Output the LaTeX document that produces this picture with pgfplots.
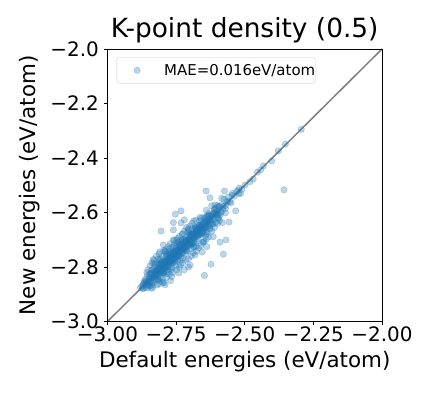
\documentclass[border=0pt]{standalone}
\usepackage{fontspec}
\setmainfont{DejaVu Sans}
\usepackage{pgfplots}
\pgfplotsset{compat=1.18}
\definecolor{tabblue}{RGB}{31,119,180}
\pgfplotsset{myleg/.style={legend image code/.code={\path[draw=none] (-20.3bp,0bp) -- (27bp,0bp); \draw[##1] plot[only marks] coordinates {(0bp,0bp)};}}}
\begin{document}
\begin{tikzpicture}
\path[use as bounding box] (-107.5bp,-74.5bp) rectangle (324.5bp,321.5bp);
\begin{axis}[
  at={(0,0)}, anchor=south west,
  scale only axis, width=274.5bp, height=272.5bp,
  xmin=-3, xmax=-2, ymin=-3, ymax=-2,
  xtick={-3,-2.75,-2.5,-2.25,-2},
  xticklabels={−3.00,−2.75,−2.50,−2.25,−2.00},
  ytick={-3,-2.8,-2.6,-2.4,-2.2,-2},
  yticklabels={−3.0,−2.8,−2.6,−2.4,−2.2,−2.0},
  xtick pos=bottom, ytick pos=left,
  tick align=outside, major tick length=3.5bp,
  tick style={black, line width=0.8bp},
  axis line style={black, line width=0.8bp},
  xticklabel style={font=\fontsize{20}{24}\selectfont, inner sep=0pt, anchor=north, yshift=-2bp},
  yticklabel style={font=\fontsize{20}{24}\selectfont, inner sep=0pt, anchor=east, xshift=-5bp},
  title={K-point density (0.5)},
  title style={font=\fontsize{26.5}{32}\selectfont, at={(axis description cs:0.5,1)}, anchor=base, yshift=6bp, inner sep=0pt},
  xlabel={Default energies (eV/atom)},
  ylabel={New energies (eV/atom)},
  xlabel style={font=\fontsize{21.5}{26}\selectfont, at={(axis description cs:0.5,0)}, anchor=base, yshift=-46bp, inner sep=0pt},
  ylabel style={font=\fontsize{21.5}{26}\selectfont, at={(axis description cs:-0.2641,0.5)}, anchor=base, inner sep=0pt},
  legend style={at={(axis description cs:0.0335,0.9695)}, anchor=north west,
    draw=black!20, rounded corners=2.5bp, fill=white, fill opacity=0.8, text opacity=1,
    font=\fontsize{15}{18}\selectfont, inner xsep=0bp, inner ysep=6.5bp,
    nodes={inner sep=0pt, font=\fontsize{15}{18}\selectfont}, column sep=0pt},
  legend cell align=left,
]
\addplot[only marks, mark=*, mark size=3.2bp,
  mark options={fill=tabblue, draw=tabblue, line width=0.5bp, opacity=0.3}, myleg]
coordinates {
(-2.880,-2.876) (-2.872,-2.878) (-2.865,-2.856) (-2.858,-2.860) (-2.850,-2.844) (-2.845,-2.854)
(-2.838,-2.837) (-2.832,-2.836) (-2.825,-2.821) (-2.820,-2.826) (-2.815,-2.806) (-2.810,-2.812)
(-2.805,-2.799) (-2.800,-2.809) (-2.796,-2.795) (-2.792,-2.796) (-2.788,-2.784) (-2.784,-2.790)
(-2.780,-2.771) (-2.776,-2.778) (-2.772,-2.766) (-2.768,-2.777) (-2.764,-2.763) (-2.760,-2.764)
(-2.756,-2.752) (-2.752,-2.758) (-2.748,-2.739) (-2.744,-2.746) (-2.740,-2.734) (-2.736,-2.745)
(-2.732,-2.731) (-2.728,-2.732) (-2.724,-2.720) (-2.720,-2.726) (-2.715,-2.706) (-2.710,-2.712)
(-2.705,-2.699) (-2.700,-2.709) (-2.694,-2.693) (-2.688,-2.692) (-2.682,-2.678) (-2.676,-2.682)
(-2.670,-2.661) (-2.664,-2.666) (-2.658,-2.652) (-2.652,-2.661) (-2.645,-2.644) (-2.638,-2.642)
(-2.630,-2.626) (-2.622,-2.628) (-2.614,-2.605) (-2.605,-2.607) (-2.596,-2.590) (-2.587,-2.596)
(-2.578,-2.577) (-2.570,-2.574) (-2.562,-2.558) (-2.554,-2.560) (-2.546,-2.537) (-2.538,-2.540)
(-2.530,-2.524) (-2.522,-2.531)
(-2.862,-2.844) (-2.855,-2.877) (-2.848,-2.837) (-2.842,-2.856) (-2.836,-2.810) (-2.829,-2.846)
(-2.823,-2.815) (-2.817,-2.844) (-2.811,-2.790) (-2.806,-2.816) (-2.801,-2.783) (-2.797,-2.819)
(-2.793,-2.782) (-2.789,-2.803) (-2.785,-2.759) (-2.781,-2.798) (-2.777,-2.769) (-2.773,-2.800)
(-2.769,-2.748) (-2.765,-2.775) (-2.761,-2.743) (-2.757,-2.779) (-2.753,-2.742) (-2.749,-2.763)
(-2.745,-2.719) (-2.741,-2.758) (-2.737,-2.729) (-2.733,-2.760) (-2.729,-2.708) (-2.725,-2.735)
(-2.721,-2.703) (-2.717,-2.739) (-2.712,-2.701) (-2.707,-2.721) (-2.702,-2.676) (-2.697,-2.714)
(-2.691,-2.683) (-2.685,-2.712) (-2.679,-2.658) (-2.673,-2.683) (-2.667,-2.649) (-2.660,-2.682)
(-2.653,-2.642) (-2.646,-2.660) (-2.639,-2.613) (-2.631,-2.648) (-2.623,-2.615) (-2.615,-2.642)
(-2.606,-2.585) (-2.597,-2.607)
(-2.852,-2.810) (-2.840,-2.878) (-2.831,-2.776) (-2.819,-2.866) (-2.808,-2.775) (-2.799,-2.857)
(-2.790,-2.742) (-2.782,-2.817) (-2.774,-2.732) (-2.766,-2.804) (-2.758,-2.703) (-2.750,-2.797)
(-2.742,-2.709) (-2.734,-2.792) (-2.726,-2.678) (-2.716,-2.751) (-2.706,-2.664) (-2.696,-2.734)
(-2.686,-2.631) (-2.676,-2.723) (-2.664,-2.631) (-2.652,-2.710) (-2.640,-2.592) (-2.626,-2.661)
(-2.803,-2.789) (-2.798,-2.803) (-2.791,-2.807) (-2.786,-2.779) (-2.779,-2.779) (-2.774,-2.785)
(-2.767,-2.753) (-2.762,-2.767) (-2.755,-2.771) (-2.750,-2.743) (-2.743,-2.743) (-2.738,-2.749)
(-2.731,-2.717) (-2.726,-2.731) (-2.719,-2.735) (-2.714,-2.707) (-2.708,-2.708) (-2.703,-2.714)
(-2.696,-2.682) (-2.690,-2.695) (-2.684,-2.700) (-2.678,-2.671) (-2.671,-2.671) (-2.665,-2.676)
(-2.657,-2.643) (-2.650,-2.655) (-2.641,-2.657) (-2.634,-2.627)
(-2.870,-2.880) (-2.865,-2.852) (-2.860,-2.865) (-2.855,-2.831) (-2.850,-2.866) (-2.845,-2.842)
(-2.840,-2.823) (-2.835,-2.855) (-2.830,-2.817) (-2.825,-2.830) (-2.820,-2.796) (-2.815,-2.846)
(-2.810,-2.807) (-2.805,-2.788) (-2.800,-2.820) (-2.795,-2.782) (-2.790,-2.795) (-2.785,-2.761)
(-2.780,-2.811) (-2.775,-2.772) (-2.770,-2.753) (-2.765,-2.785) (-2.760,-2.747) (-2.755,-2.760)
(-2.750,-2.726) (-2.745,-2.776) (-2.740,-2.737) (-2.735,-2.718) (-2.730,-2.750) (-2.725,-2.712)
(-2.720,-2.725) (-2.715,-2.691) (-2.710,-2.741) (-2.705,-2.702) (-2.700,-2.683) (-2.695,-2.715)
(-2.690,-2.677) (-2.685,-2.690) (-2.680,-2.656) (-2.675,-2.706) (-2.670,-2.667) (-2.665,-2.648)
(-2.660,-2.680) (-2.655,-2.642) (-2.650,-2.655) (-2.645,-2.621) (-2.640,-2.671) (-2.635,-2.632)
(-2.630,-2.613) (-2.625,-2.645) (-2.620,-2.607) (-2.615,-2.620) (-2.610,-2.586) (-2.605,-2.636)
(-2.600,-2.597) (-2.595,-2.578) (-2.590,-2.610) (-2.585,-2.572) (-2.580,-2.585) (-2.575,-2.551)
(-2.570,-2.601) (-2.565,-2.562) (-2.560,-2.543)
(-2.868,-2.860) (-2.862,-2.875) (-2.857,-2.820) (-2.851,-2.854) (-2.846,-2.870) (-2.840,-2.825)
(-2.835,-2.875) (-2.829,-2.801) (-2.824,-2.833) (-2.818,-2.810) (-2.813,-2.826) (-2.807,-2.770)
(-2.802,-2.805) (-2.796,-2.820) (-2.791,-2.776) (-2.785,-2.825) (-2.780,-2.752) (-2.774,-2.783)
(-2.769,-2.761) (-2.763,-2.776) (-2.758,-2.721) (-2.752,-2.755) (-2.747,-2.771) (-2.741,-2.726)
(-2.736,-2.776) (-2.730,-2.702) (-2.725,-2.734) (-2.719,-2.711) (-2.714,-2.727) (-2.708,-2.671)
(-2.703,-2.706) (-2.697,-2.721) (-2.692,-2.677) (-2.686,-2.726) (-2.681,-2.653) (-2.675,-2.684)
(-2.670,-2.662) (-2.664,-2.677) (-2.659,-2.622) (-2.653,-2.656) (-2.648,-2.672) (-2.642,-2.627)
(-2.637,-2.677) (-2.631,-2.603) (-2.626,-2.635) (-2.620,-2.612) (-2.615,-2.628) (-2.609,-2.572)
(-2.604,-2.607) (-2.598,-2.622) (-2.593,-2.578)
(-2.822,-2.819) (-2.818,-2.825) (-2.814,-2.802) (-2.810,-2.822) (-2.806,-2.800) (-2.802,-2.799)
(-2.798,-2.805) (-2.794,-2.782) (-2.790,-2.802) (-2.786,-2.780) (-2.782,-2.779) (-2.778,-2.785)
(-2.774,-2.762) (-2.770,-2.782) (-2.766,-2.760) (-2.762,-2.759) (-2.758,-2.765) (-2.754,-2.742)
(-2.750,-2.762) (-2.746,-2.740) (-2.742,-2.739) (-2.738,-2.745) (-2.734,-2.722) (-2.730,-2.742)
(-2.726,-2.720) (-2.722,-2.719) (-2.718,-2.725) (-2.714,-2.702) (-2.710,-2.722) (-2.706,-2.700)
(-2.702,-2.699) (-2.698,-2.705) (-2.694,-2.682) (-2.690,-2.702) (-2.686,-2.680) (-2.682,-2.679)
(-2.678,-2.685) (-2.674,-2.662) (-2.670,-2.682) (-2.666,-2.660) (-2.662,-2.659)
(-2.835,-2.837) (-2.831,-2.826) (-2.826,-2.835) (-2.822,-2.812) (-2.817,-2.819) (-2.813,-2.808)
(-2.808,-2.817) (-2.804,-2.794) (-2.799,-2.801) (-2.795,-2.790) (-2.790,-2.799) (-2.786,-2.776)
(-2.781,-2.783) (-2.777,-2.772) (-2.772,-2.781) (-2.768,-2.758) (-2.763,-2.765) (-2.759,-2.754)
(-2.754,-2.763) (-2.750,-2.740) (-2.745,-2.747) (-2.741,-2.736) (-2.736,-2.745) (-2.732,-2.722)
(-2.727,-2.729) (-2.723,-2.718) (-2.718,-2.727) (-2.714,-2.704) (-2.709,-2.711) (-2.705,-2.700)
(-2.700,-2.709) (-2.696,-2.686) (-2.691,-2.693) (-2.687,-2.682) (-2.682,-2.691) (-2.678,-2.668)
(-2.673,-2.675) (-2.669,-2.664) (-2.664,-2.673) (-2.660,-2.650) (-2.655,-2.657) (-2.651,-2.646)
(-2.646,-2.655) (-2.642,-2.632) (-2.637,-2.639)
(-2.858,-2.852) (-2.852,-2.867) (-2.846,-2.826) (-2.840,-2.841) (-2.834,-2.858) (-2.828,-2.817)
(-2.822,-2.816) (-2.816,-2.831) (-2.810,-2.790) (-2.804,-2.805) (-2.798,-2.822) (-2.792,-2.781)
(-2.786,-2.780) (-2.780,-2.795) (-2.774,-2.754) (-2.768,-2.769) (-2.762,-2.786) (-2.756,-2.745)
(-2.750,-2.744) (-2.744,-2.759) (-2.738,-2.718) (-2.732,-2.733) (-2.726,-2.750) (-2.720,-2.709)
(-2.714,-2.708) (-2.708,-2.723) (-2.702,-2.682) (-2.696,-2.697) (-2.690,-2.714) (-2.684,-2.673)
(-2.678,-2.672) (-2.672,-2.687) (-2.666,-2.646) (-2.660,-2.661) (-2.654,-2.678) (-2.648,-2.637)
(-2.642,-2.636) (-2.636,-2.651) (-2.630,-2.610) (-2.624,-2.625) (-2.618,-2.642) (-2.612,-2.601)
(-2.606,-2.600) (-2.600,-2.615)
(-2.845,-2.823) (-2.838,-2.866) (-2.831,-2.786) (-2.824,-2.843) (-2.817,-2.786) (-2.810,-2.852)
(-2.803,-2.781) (-2.796,-2.824) (-2.789,-2.744) (-2.782,-2.801) (-2.775,-2.744) (-2.768,-2.810)
(-2.761,-2.739) (-2.754,-2.782) (-2.747,-2.702) (-2.740,-2.759) (-2.733,-2.702) (-2.726,-2.768)
(-2.719,-2.697) (-2.712,-2.740) (-2.705,-2.660) (-2.698,-2.717) (-2.691,-2.660) (-2.684,-2.726)
(-2.677,-2.655) (-2.670,-2.698) (-2.663,-2.618) (-2.656,-2.675) (-2.649,-2.618) (-2.642,-2.684)
(-2.635,-2.613) (-2.628,-2.656) (-2.621,-2.576)
(-2.845,-2.795) (-2.838,-2.785) (-2.826,-2.790) (-2.822,-2.760) (-2.815,-2.770) (-2.812,-2.752)
(-2.800,-2.760) (-2.795,-2.740) (-2.788,-2.735) (-2.786,-2.752) (-2.778,-2.725) (-2.772,-2.715)
(-2.765,-2.728) (-2.760,-2.700) (-2.752,-2.712) (-2.745,-2.695) (-2.738,-2.688) (-2.728,-2.680)
(-2.720,-2.668) (-2.712,-2.655) (-2.700,-2.650) (-2.692,-2.640) (-2.678,-2.628)
(-2.812,-2.862) (-2.800,-2.845) (-2.785,-2.838) (-2.775,-2.826) (-2.762,-2.820) (-2.748,-2.810)
(-2.738,-2.800) (-2.726,-2.785) (-2.715,-2.775) (-2.705,-2.770) (-2.695,-2.760) (-2.688,-2.748)
(-2.676,-2.742) (-2.668,-2.730) (-2.660,-2.722) (-2.648,-2.705) (-2.640,-2.698) (-2.632,-2.690)
(-2.620,-2.668) (-2.610,-2.655) (-2.600,-2.640) (-2.592,-2.630) (-2.655,-2.745) (-2.638,-2.725)
(-2.705,-2.800) (-2.720,-2.810) (-2.740,-2.822) (-2.770,-2.850) (-2.790,-2.865)
(-2.641,-2.521) (-2.574,-2.521) (-2.627,-2.546) (-2.584,-2.548) (-2.533,-2.594) (-2.732,-2.594)
(-2.753,-2.606) (-2.557,-2.635) (-2.582,-2.637) (-2.720,-2.627) (-2.732,-2.638) (-2.760,-2.637)
(-2.805,-2.668) (-2.760,-2.664) (-2.568,-2.701) (-2.590,-2.709) (-2.578,-2.753) (-2.623,-2.790)
(-2.647,-2.831) (-2.794,-2.858) (-2.870,-2.866) (-2.833,-2.772) (-2.615,-2.689) (-2.651,-2.708)
(-2.857,-2.860) (-2.875,-2.870) (-2.766,-2.835) (-2.809,-2.841) (-2.839,-2.811) (-2.809,-2.744)
(-2.797,-2.719) (-2.681,-2.756) (-2.699,-2.793) (-2.357,-2.517)
(-2.600,-2.575) (-2.585,-2.600) (-2.570,-2.585) (-2.610,-2.590) (-2.595,-2.620) (-2.550,-2.565)
(-2.545,-2.530) (-2.525,-2.520) (-2.520,-2.510) (-2.515,-2.530)
(-2.294,-2.295) (-2.352,-2.349) (-2.378,-2.374) (-2.402,-2.411) (-2.432,-2.429) (-2.442,-2.444)
(-2.454,-2.452) (-2.469,-2.477) (-2.481,-2.487) (-2.499,-2.499) (-2.511,-2.515)
};
\addlegendentry{MAE=0.016eV/atom\hspace{6bp}}
\addplot[black, opacity=0.5, line width=1.5bp, forget plot] coordinates {(-3,-3) (-2,-2)};
\end{axis}
\end{tikzpicture}
\end{document}
